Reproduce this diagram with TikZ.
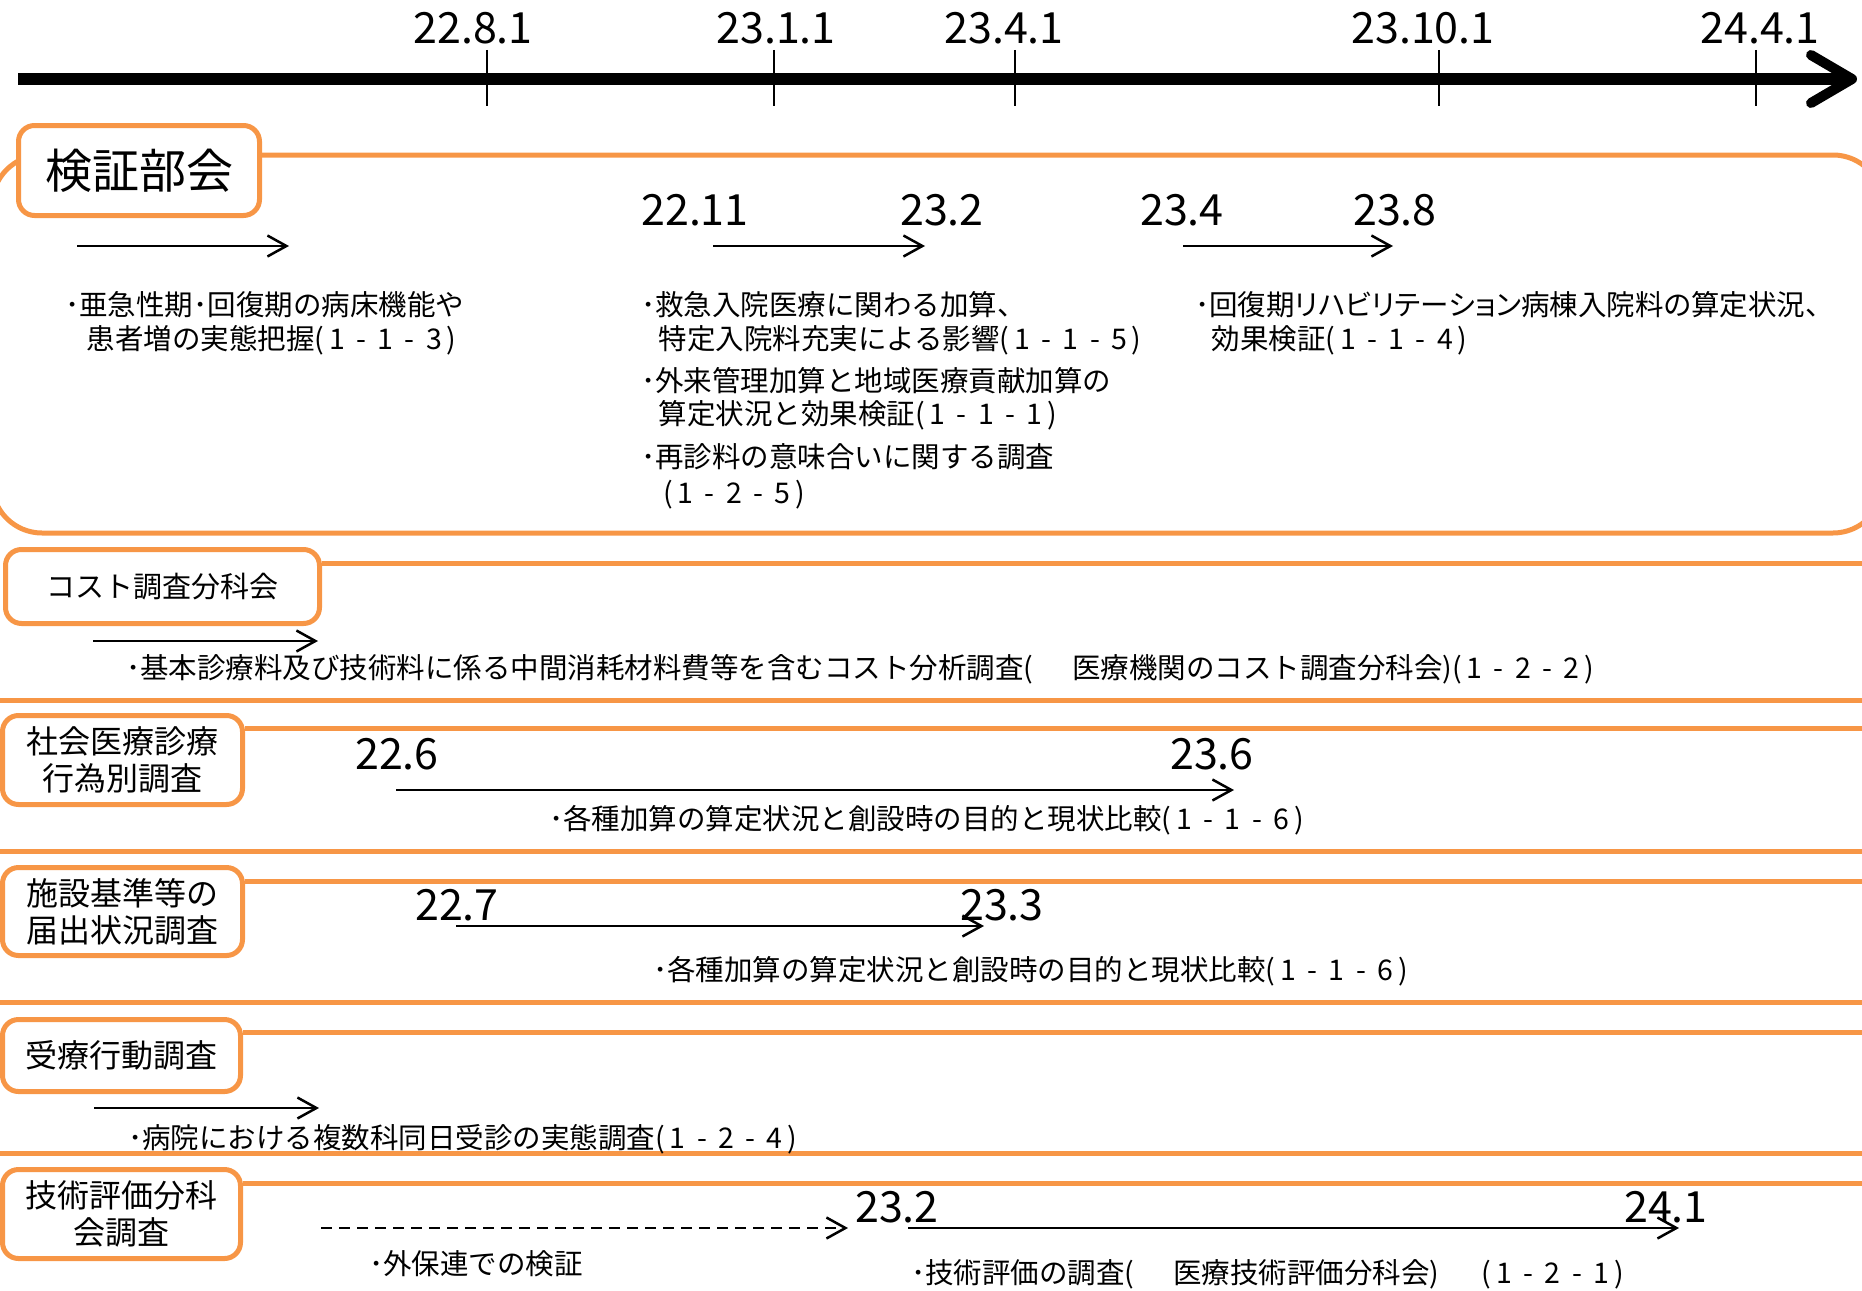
\documentclass[tikz,border=0pt]{standalone}
\usepackage{fontspec}
\setmainfont{Noto Sans CJK JP}
\usetikzlibrary{arrows.meta}
\definecolor{org}{RGB}{247,150,70}
\newcommand{\pn}[3]{(\hspace{0.17em}#1\hspace{0.4em}-\hspace{0.4em}#2\hspace{0.4em}-\hspace{0.4em}#3\hspace{0.17em})}
\begin{document}
\begin{tikzpicture}[x=1pt,y=-1pt,
  txt/.style={inner sep=0pt, anchor=west, font=\fontsize{28.5}{34}\selectfont, text height=25pt, text depth=3.5pt},
  date/.style={inner sep=0pt, anchor=base, font=\fontsize{43}{50}\selectfont},
  lab/.style={draw=org, line width=5pt, rounded corners=16pt, fill=white, inner sep=0pt, align=center, font=\fontsize{32}{37}\selectfont},
  band/.style={draw=org, line width=5pt},
  arr/.style={line width=2.5pt, -{Straight Barb[length=19pt,width=21pt]}},
  tick/.style={line width=2.5pt}]
\useasboundingbox (0,0) rectangle (1862,1290);
\clip (0,0) rectangle (1862,1290);

% ---------- timeline ----------
\coordinate (tl0) at (18,79);
\coordinate (tl1) at (1850,79);
\draw[line width=12pt] (tl0) -- (tl1);
\coordinate (ch1) at (1811,55);
\coordinate (ch2) at (1852,79);
\coordinate (ch3) at (1811,103);
\draw[line width=10pt, line cap=round, line join=round] (ch1) -- (ch2) -- (ch3);
\foreach \x/\n in {487/t1,774/t2,1015/t3,1439/t4,1756/t5}{
  \coordinate (\n a) at (\x,50);
  \coordinate (\n b) at (\x,106);
  \draw[tick] (\n a) -- (\n b);
}
\node[date] (d1) at (473,44) {22.8.1};
\node[date] (d2) at (776,44) {23.1.1};
\node[date] (d3) at (1004,44) {23.4.1};
\node[date] (d4) at (1423,44) {23.10.1};
\node[date] (d5) at (1760,44) {24.4.1};

% ---------- section 1 ----------
\draw[band, rounded corners=50pt] (-8,155) rectangle (1883,533);
\node[lab, font=\fontsize{47}{50}\selectfont, minimum width=241pt, minimum height=90pt] (kensho) at (139,170.5) {検証部会};

\coordinate (a1s) at (77,246);  \coordinate (a1e) at (289,246);
\coordinate (a2s) at (713,246); \coordinate (a2e) at (925,246);
\coordinate (a3s) at (1183,246); \coordinate (a3e) at (1393,246);
\draw[arr] (a1s) -- (a1e);
\draw[arr] (a2s) -- (a2e);
\draw[arr] (a3s) -- (a3e);
\node[date] (s1d1) at (695,225) {22.11};
\node[date] (s1d2) at (942,225) {23.2};
\node[date] (s1d3) at (1182,225) {23.4};
\node[date] (s1d4) at (1395,225) {23.8};

\node[txt] (tA1) at (65,305) {･亜急性期･回復期の病床機能や};
\node[txt] (tA2) at (86.5,339) {患者増の実態把握\pn{1}{1}{3}};
\node[txt] (tB1) at (641,305) {･救急入院医療に関わる加算、};
\node[txt] (tB2) at (658.5,339) {特定入院料充実による影響\pn{1}{1}{5}};
\node[txt] (tB3) at (641,381) {･外来管理加算と地域医療貢献加算の};
\node[txt] (tB4) at (658.5,414) {算定状況と効果検証\pn{1}{1}{1}};
\node[txt] (tB5) at (641,457) {･再診料の意味合いに関する調査};
\node[txt] (tB6) at (663,493) {\pn{1}{2}{5}};
\node[txt] (tC1) at (1195,305) {\addfontfeature{RawFeature=+palt}･回復期リハビリテーション病棟入院料の算定状況、};
\node[txt] (tC2) at (1211.5,339) {効果検証\pn{1}{1}{4}};

% ---------- section 2 ----------
\node[lab, font=\fontsize{29}{34}\selectfont, minimum width=314pt, minimum height=74pt] (cost) at (162.5,586.5) {コスト調査分科会};
\coordinate (c2r) at (1870,563);
\draw[band] (cost.east |- c2r) -- (c2r);
\coordinate (b2l) at (-5,700); \coordinate (b2r) at (1870,700);
\draw[band] (b2l) -- (b2r);
\coordinate (a4s) at (93,641); \coordinate (a4e) at (318,641);
\draw[arr] (a4s) -- (a4e);
\node[txt] (tS2) at (126,668) {･基本診療料及び技術料に係る中間消耗材料費等を含むコスト分析調査(\hspace{1.35em}医療機関のコスト調査分科会)\pn{1}{2}{2}};

% ---------- section 3 ----------
\node[lab, minimum width=240pt, minimum height=89pt] (shakai) at (122.5,760) {社会医療診療\\行為別調査};
\coordinate (c3r) at (1870,728);
\draw[band] (shakai.east |- c3r) -- (c3r);
\coordinate (b3l) at (-5,851); \coordinate (b3r) at (1870,851);
\draw[band] (b3l) -- (b3r);
\node[date] (s3d1) at (397,769) {22.6};
\node[date] (s3d2) at (1212,769) {23.6};
\coordinate (a5s) at (396,790); \coordinate (a5e) at (1234,790);
\draw[arr] (a5s) -- (a5e);
\node[txt] (tS3) at (549,819) {･各種加算の算定状況と創設時の目的と現状比較\pn{1}{1}{6}};

% ---------- section 4 ----------
\node[lab, minimum width=240pt, minimum height=88pt] (shisetsu) at (122.5,911.5) {施設基準等の\\届出状況調査};
\coordinate (c4r) at (1870,881);
\draw[band] (shisetsu.east |- c4r) -- (c4r);
\coordinate (b4l) at (-5,1002); \coordinate (b4r) at (1870,1002);
\draw[band] (b4l) -- (b4r);
\node[date] (s4d1) at (457,920) {22.7};
\node[date] (s4d2) at (1002,920) {23.3};
\coordinate (a6s) at (456,926); \coordinate (a6e) at (984,926);
\draw[arr] (a6s) -- (a6e);
\node[txt] (tS4) at (653,970) {･各種加算の算定状況と創設時の目的と現状比較\pn{1}{1}{6}};

% ---------- section 5 ----------
\node[lab, minimum width=238pt, minimum height=72pt] (juryo) at (121.5,1055.5) {受療行動調査};
\coordinate (c5r) at (1870,1032);
\draw[band] (juryo.east |- c5r) -- (c5r);
\coordinate (b5l) at (-5,1153); \coordinate (b5r) at (1870,1153);
\draw[band] (b5l) -- (b5r);
\coordinate (a7s) at (94,1108); \coordinate (a7e) at (319,1108);
\draw[arr] (a7s) -- (a7e);
\node[txt] (tS5) at (128,1138) {･病院における複数科同日受診の実態調査\pn{1}{2}{4}};

% ---------- section 6 ----------
\node[lab, minimum width=238pt, minimum height=89pt] (gijutsu) at (121.5,1214) {技術評価分科\\会調査};
\coordinate (c6r) at (1870,1183);
\draw[band] (gijutsu.east |- c6r) -- (c6r);
\coordinate (a8s) at (321,1228); \coordinate (a8e) at (848,1228);
\draw[arr, dash pattern=on 11pt off 7pt] (a8s) -- (a8e);
\node[txt] (tS6a) at (369,1264) {･外保連での検証};
\node[date] (s6d1) at (897,1222) {23.2};
\node[date] (s6d2) at (1666,1222) {24.1};
\coordinate (a9s) at (908,1228); \coordinate (a9e) at (1679,1228);
\draw[arr] (a9s) -- (a9e);
\node[txt] (tS6b) at (911,1273) {･技術評価の調査(\hspace{1.35em}医療技術評価分科会)\hspace{1.5em}\pn{1}{2}{1}};
\end{tikzpicture}
\end{document}
